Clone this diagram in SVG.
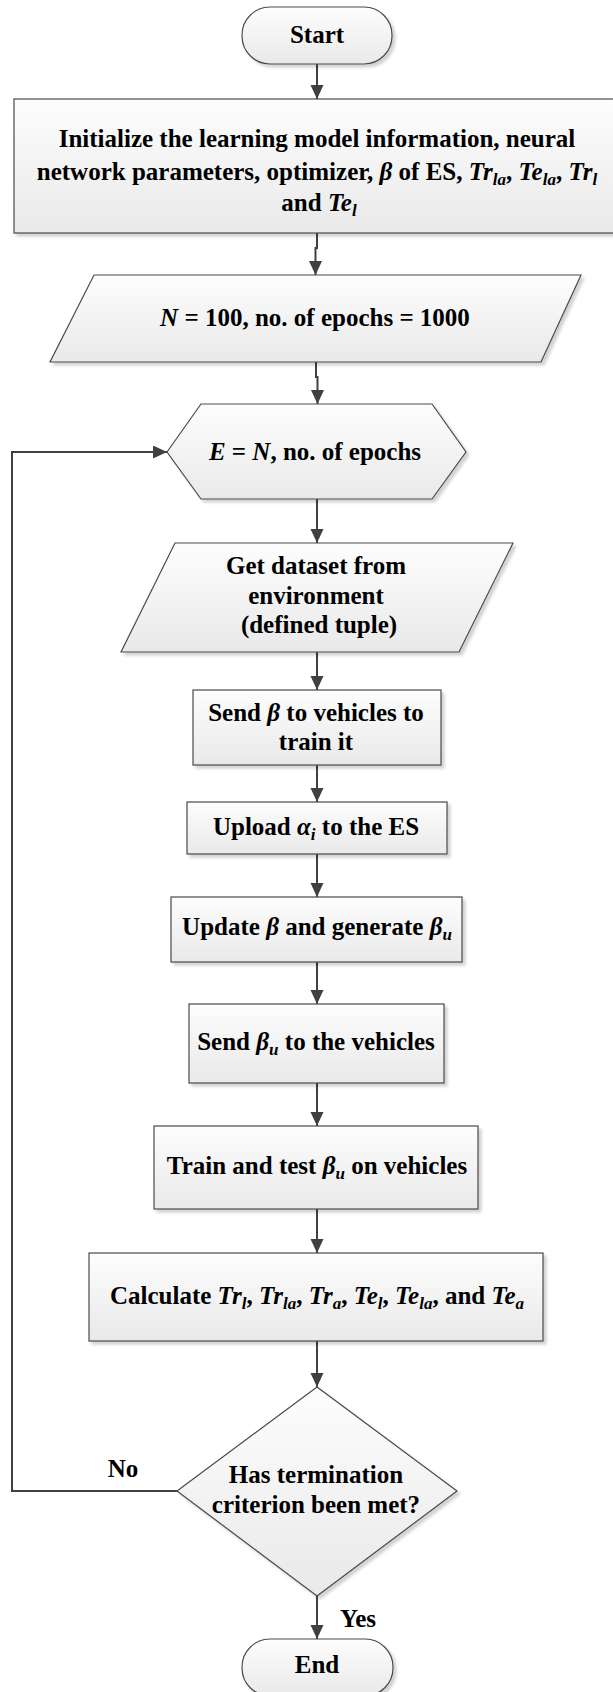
<svg xmlns="http://www.w3.org/2000/svg" width="613" height="1692" viewBox="0 0 613 1692">
  <defs>
    <linearGradient id="fillGrad" x1="0" y1="0" x2="0" y2="1">
      <stop offset="0" stop-color="#fdfdfd"/>
      <stop offset="1" stop-color="#e9e9e9"/>
    </linearGradient>
    <filter id="shadow" x="-10%" y="-10%" width="130%" height="130%">
      <feGaussianBlur in="SourceAlpha" stdDeviation="1.6"/>
      <feOffset dx="3" dy="3" result="off"/>
      <feComponentTransfer><feFuncA type="linear" slope="0.18"/></feComponentTransfer>
      <feMerge><feMergeNode/><feMergeNode in="SourceGraphic"/></feMerge>
    </filter>
    <marker id="arrow" markerUnits="userSpaceOnUse" markerWidth="15" markerHeight="14" refX="14" refY="6.5" orient="auto">
      <path d="M0,0 L14,6.5 L0,13 Z" fill="#404040"/>
    </marker>
    <style>
      .shape { fill: url(#fillGrad); stroke: #4a4a4a; stroke-width: 1.2; filter: url(#shadow); }
      .conn { fill: none; stroke: #404040; stroke-width: 2; }
      .lbl { font-family: "Liberation Serif", "Times New Roman", serif; font-weight: bold; font-size: 25px; fill: #000; text-anchor: middle; }
      .it { font-style: italic; }
      .sub { font-style: italic; font-size: 17px; }
    </style>
  </defs>

  <!-- connectors -->
  <g id="connectors">
    <path class="conn" d="M317,64 V99" marker-end="url(#arrow)"/>
    <path class="conn" d="M317,233 V248 H315.5 V275" marker-end="url(#arrow)"/>
    <path class="conn" d="M316,362 V377 H317.5 V404" marker-end="url(#arrow)"/>
    <path class="conn" d="M317,499 V543" marker-end="url(#arrow)"/>
    <path class="conn" d="M317,652 V690" marker-end="url(#arrow)"/>
    <path class="conn" d="M317,765 V802" marker-end="url(#arrow)"/>
    <path class="conn" d="M317,854 V897" marker-end="url(#arrow)"/>
    <path class="conn" d="M317,962 V1004" marker-end="url(#arrow)"/>
    <path class="conn" d="M317,1083 V1126" marker-end="url(#arrow)"/>
    <path class="conn" d="M317,1209 V1253" marker-end="url(#arrow)"/>
    <path class="conn" d="M317,1341 V1387" marker-end="url(#arrow)"/>
    <path class="conn" d="M317,1596 V1639" marker-end="url(#arrow)"/>
    <path class="conn" d="M177,1491 H12 V452 H167" marker-end="url(#arrow)"/>
    <text class="lbl" x="123" y="1477">No</text>
    <text class="lbl" x="358" y="1627">Yes</text>
  </g>

  <g id="start">
    <rect class="shape" x="242" y="7" width="150" height="57" rx="28" ry="28"/>
    <text class="lbl" x="317" y="43">Start</text>
  </g>

  <g id="init">
    <rect class="shape" x="14" y="99" width="604" height="134"/>
    <text class="lbl" x="317" y="147">Initialize the learning model information, neural</text>
    <text class="lbl" x="317" y="180">network parameters, optimizer, <tspan class="it">β</tspan> of ES, <tspan class="it">Tr</tspan><tspan class="sub" dy="5">la</tspan><tspan dy="-5">, </tspan><tspan class="it">Te</tspan><tspan class="sub" dy="5">la</tspan><tspan dy="-5">, </tspan><tspan class="it">Tr</tspan><tspan class="sub" dy="5">l</tspan></text>
    <text class="lbl" x="319" y="211">and <tspan class="it">Te</tspan><tspan class="sub" dy="5">l</tspan></text>
  </g>

  <g id="params">
    <polygon class="shape" points="94,275 581,275 541,362 50,362"/>
    <text class="lbl" x="315" y="326"><tspan class="it">N</tspan> = 100, no. of epochs = 1000</text>
  </g>

  <g id="epochLoop">
    <polygon class="shape" points="167,452 201,404 432,404 466,452 432,499 201,499"/>
    <text class="lbl" x="315" y="460"><tspan class="it">E</tspan> = <tspan class="it">N</tspan>, no. of epochs</text>
  </g>

  <g id="getData">
    <polygon class="shape" points="175,543 513,543 459,652 121,652"/>
    <text class="lbl" x="316" y="574">Get dataset from</text>
    <text class="lbl" x="316" y="604">environment</text>
    <text class="lbl" x="319" y="633">(defined tuple)</text>
  </g>

  <g id="sendBeta">
    <rect class="shape" x="193" y="690" width="248" height="75"/>
    <text class="lbl" x="316" y="721">Send <tspan class="it">β</tspan> to vehicles to</text>
    <text class="lbl" x="316" y="750">train it</text>
  </g>

  <g id="upload">
    <rect class="shape" x="187" y="802" width="260" height="52"/>
    <text class="lbl" x="316" y="835">Upload <tspan class="it">α</tspan><tspan class="sub" dy="5">i</tspan><tspan dy="-5"> to the ES</tspan></text>
  </g>

  <g id="update">
    <rect class="shape" x="171" y="897" width="291" height="65"/>
    <text class="lbl" x="317" y="935">Update <tspan class="it">β</tspan> and generate <tspan class="it">β</tspan><tspan class="sub" dy="5">u</tspan></text>
  </g>

  <g id="sendBetaU">
    <rect class="shape" x="189" y="1004" width="255" height="79"/>
    <text class="lbl" x="316" y="1050">Send <tspan class="it">β</tspan><tspan class="sub" dy="5">u</tspan><tspan dy="-5"> to the vehicles</tspan></text>
  </g>

  <g id="trainTest">
    <rect class="shape" x="154" y="1126" width="324" height="83"/>
    <text class="lbl" x="317" y="1174">Train and test <tspan class="it">β</tspan><tspan class="sub" dy="5">u</tspan><tspan dy="-5"> on vehicles</tspan></text>
  </g>

  <g id="calculate">
    <rect class="shape" x="89" y="1253" width="454" height="88"/>
    <text class="lbl" x="317" y="1304">Calculate <tspan class="it">Tr</tspan><tspan class="sub" dy="5">l</tspan><tspan dy="-5">, </tspan><tspan class="it">Tr</tspan><tspan class="sub" dy="5">la</tspan><tspan dy="-5">, </tspan><tspan class="it">Tr</tspan><tspan class="sub" dy="5">a</tspan><tspan dy="-5">, </tspan><tspan class="it">Te</tspan><tspan class="sub" dy="5">l</tspan><tspan dy="-5">, </tspan><tspan class="it">Te</tspan><tspan class="sub" dy="5">la</tspan><tspan dy="-5">, and </tspan><tspan class="it">Te</tspan><tspan class="sub" dy="5">a</tspan></text>
  </g>

  <g id="decision">
    <polygon class="shape" points="317,1387 457,1491 317,1596 177,1491"/>
    <text class="lbl" x="316" y="1483">Has termination</text>
    <text class="lbl" x="316" y="1513">criterion been met?</text>
  </g>

  <g id="end">
    <rect class="shape" x="242" y="1639" width="151" height="57" rx="28" ry="28"/>
    <text class="lbl" x="317" y="1673">End</text>
  </g>
</svg>
